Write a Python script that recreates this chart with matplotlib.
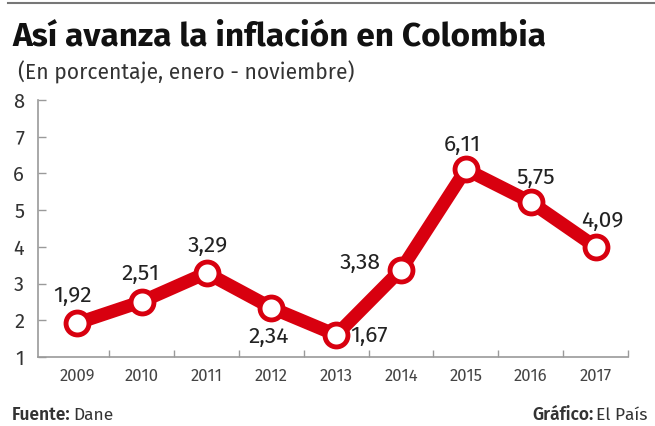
import matplotlib
matplotlib.use("Agg")
import matplotlib.pyplot as plt
from matplotlib.lines import Line2D

# data as drawn in the chart (label text kept separately)
years = [2009, 2010, 2011, 2012, 2013, 2014, 2015, 2016, 2017]
values = [1.92, 2.51, 3.29, 2.34, 1.60, 3.38, 6.11, 5.22, 4.0]
labels = ["1,92", "2,51", "3,29", "2,34", "1,67", "3,38", "6,11", "5,75", "4,09"]
# label offsets in pixels (dx, dy)
offsets = [(-4, 27), (-1, 28), (1, 27), (-3, -29), (33, -1), (-41, 7), (-4, 25), (5, 24), (7, 26)]
yticks = [1, 2, 3, 4, 5, 6, 7, 8]

FONT = ["Fira Sans", "DejaVu Sans"]
plt.rcParams["font.family"] = FONT
RED = "#d8000f"
GREY = "#9a9a9a"
TXT = "#222222"

fig = plt.figure(figsize=(6.55, 4.26), dpi=100)
fig.patch.set_facecolor("white")
ax = fig.add_axes([38 / 655, 1 - 357 / 426, (628 - 38) / 655, (357 - 100) / 426])

ax.plot(years, values, color=RED, lw=9.5, solid_capstyle="round", zorder=2)
ax.plot(years, values, "o", ms=16.5, mfc="white", mec=RED, mew=3.5, zorder=3)

for x, y, lab, (dx, dy) in zip(years, values, labels, offsets):
    ax.annotate(lab, (x, y), xytext=(dx, dy), textcoords="offset pixels",
                ha="center", va="center", fontsize=16.5, color=TXT)

ax.set_xlim(2008.4, 2017.47)
ax.set_ylim(1, 8)
ax.set_yticks(yticks)
ax.set_yticklabels([str(t) for t in yticks])
ax.set_xticks([y + 0.5 for y in years])
ax.set_xticklabels([])
ax.set_xticks(years, minor=True)
ax.set_xticklabels([str(y) for y in years], minor=True)
ax.tick_params(axis="x", which="minor", length=0, pad=8, labelsize=12, labelcolor="#444444")
ax.tick_params(axis="x", which="major", direction="in", length=5, color=GREY, width=1)
ax.tick_params(axis="y", direction="in", length=6, color=GREY, width=1, pad=10,
               labelsize=14.5, labelcolor="#333333")
for s in ["top", "right"]:
    ax.spines[s].set_visible(False)
for s in ["left", "bottom"]:
    ax.spines[s].set_color(GREY)
    ax.spines[s].set_linewidth(1.2)
ax.set_facecolor("white")

# top rule
fig.add_artist(Line2D([8 / 655, 1], [1 - 3 / 426] * 2, color="#777777", lw=1.5,
                      transform=fig.transFigure))

fig.text(12 / 655, 1 - 46 / 426, "Así avanza la inflación en Colombia",
         fontsize=24, fontweight="bold", color="#111111", va="baseline")
fig.text(18 / 655, 1 - 72 / 426, "(En porcentaje, enero - noviembre)",
         fontsize=15.2, color="#333333", va="center")

t1 = fig.text(12 / 655, 1 - 415 / 426, "Fuente:", fontsize=12.5, fontweight="semibold",
              color="#333333", va="center")
ax.annotate("Dane", xy=(1, 0.5), xycoords=t1, xytext=(3, 0), textcoords="offset pixels",
            ha="left", va="center", fontsize=12.5, color="#333333", annotation_clip=False)
t2 = fig.text(648 / 655, 1 - 415 / 426, "El País", fontsize=12.5, color="#333333",
              ha="right", va="center")
ax.annotate("Gráfico:", xy=(0, 0.5), xycoords=t2, xytext=(-3, 0), textcoords="offset pixels",
            ha="right", va="center", fontsize=12.5, fontweight="semibold", color="#333333",
            annotation_clip=False)

fig.savefig("out.png", dpi=100, facecolor="white")
